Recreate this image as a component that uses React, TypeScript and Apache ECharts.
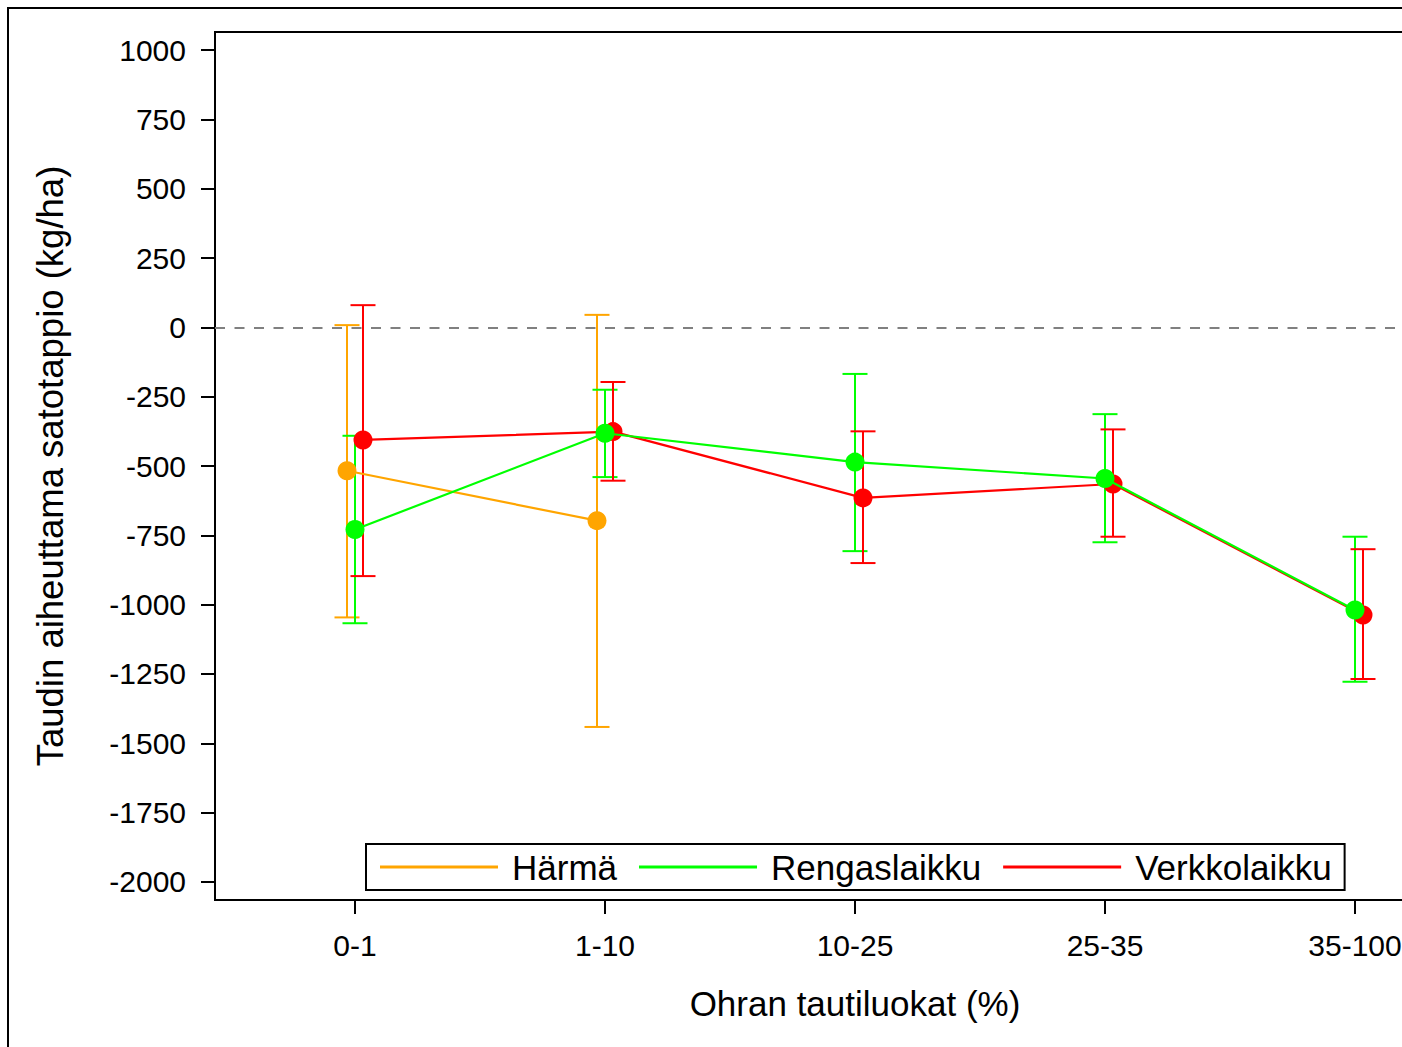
import React, { useEffect, useRef } from "react";
import * as echarts from "echarts";

const categories = ["0-1", "1-10", "10-25", "25-35", "35-100"];
const yTicks = [-2000, -1750, -1500, -1250, -1000, -750, -500, -250, 0, 250, 500, 750, 1000];

const harmaMean = [-517, -697];
const harmaLow = [-1046, -1441];
const harmaHigh = [8, 45];

const rengasMean = [-729, -382, -486, -545, -1019];
const rengasLow = [-1067, -540, -807, -775, -1278];
const rengasHigh = [-391, -225, -168, -313, -755];

const verkkoMean = [-406, -376, -615, -565, -1037];
const verkkoLow = [-897, -553, -850, -755, -1268];
const verkkoHigh = [80, -197, -375, -368, -800];

const FONT = "'Liberation Sans', Arial, sans-serif";
const ORANGE = "#FFA500";
const GREEN = "#00FF00";
const RED = "#FF0000";

function errorSeries(name: string, color: string, offset: number, low: number[], high: number[]) {
  return {
    type: "custom",
    name,
    z: 1,
    silent: true,
    data: low.map((l, i) => [i + offset, l, high[i]]),
    renderItem: (params: any, api: any) => {
      const x = api.value(0);
      const lo = api.value(1);
      const hi = api.value(2);
      const pHi = api.coord([x, hi]);
      const pLo = api.coord([x, lo]);
      const w = 12.5;
      const st = { stroke: color, lineWidth: 2 };
      return {
        type: "group",
        children: [
          { type: "line", shape: { x1: pHi[0], y1: pHi[1], x2: pLo[0], y2: pLo[1] }, style: st },
          { type: "line", shape: { x1: pHi[0] - w, y1: pHi[1], x2: pHi[0] + w, y2: pHi[1] }, style: st },
          { type: "line", shape: { x1: pLo[0] - w, y1: pLo[1], x2: pLo[0] + w, y2: pLo[1] }, style: st },
        ],
      };
    },
  };
}

function lineSeries(name: string, color: string, offset: number, mean: number[], z: number) {
  return {
    type: "line",
    name,
    z,
    data: mean.map((v, i) => [i + offset, v]),
    symbol: "circle",
    symbolSize: 19,
    itemStyle: { color },
    lineStyle: { color, width: 2.2 },
  };
}

export default function App() {
  const ref = useRef<HTMLDivElement>(null);
  useEffect(() => {
    if (!ref.current) return;
    const chart = echarts.init(ref.current, null, { renderer: "svg" });
    const off = 0.032;
    chart.setOption({
      animation: false,
      textStyle: { fontFamily: FONT, color: "#000" },
      grid: {
        left: 206,
        top: 23,
        width: 1280,
        height: 868,
        show: true,
        borderColor: "#000",
        borderWidth: 2,
        backgroundColor: "transparent",
      },
      legend: {
        data: ["Härmä", "Rengaslaikku", "Verkkolaikku"],
        left: 357,
        top: 835,
        orient: "horizontal",
        icon: "rect",
        itemWidth: 118,
        itemHeight: 3,
        itemGap: 22,
        padding: [5, 13, 5, 14],
        borderColor: "#000",
        borderWidth: 2,
        borderRadius: 0,
        backgroundColor: "#fff",
        selectedMode: false,
        textStyle: { fontSize: 35, fontFamily: FONT, color: "#000", padding: [0, 0, 0, 9], lineHeight: 36 },
      },
      xAxis: {
        type: "value",
        min: -0.56,
        max: 4.56,
        name: "Ohran tautiluokat (%)",
        nameLocation: "middle",
        nameGap: 86,
        nameTextStyle: { fontSize: 35, fontFamily: FONT, color: "#000" },
        axisLine: { show: true, onZero: false, lineStyle: { color: "#000", width: 2 } },
        axisTick: { show: true, length: 14, lineStyle: { color: "#000", width: 2 }, customValues: [0, 1, 2, 3, 4] },
        axisLabel: {
          show: true,
          fontSize: 30,
          fontFamily: FONT,
          color: "#000",
          margin: 30,
          customValues: [0, 1, 2, 3, 4],
          formatter: (v: number) => categories[Math.round(v)] ?? "",
        },
        splitLine: { show: false },
      },
      yAxis: {
        type: "value",
        min: -2065,
        max: 1065,
        name: "Taudin aiheuttama satotappio (kg/ha)",
        nameLocation: "middle",
        nameGap: 146,
        nameTextStyle: { fontSize: 36.5, fontFamily: FONT, color: "#000" },
        axisLine: { show: true, onZero: false, lineStyle: { color: "#000", width: 2 } },
        axisTick: { show: true, length: 14, lineStyle: { color: "#000", width: 2 }, customValues: yTicks },
        axisLabel: {
          show: true,
          fontSize: 30,
          fontFamily: FONT,
          color: "#000",
          margin: 29,
          customValues: yTicks,
          formatter: (v: number) => String(Math.round(v)),
        },
        splitLine: { show: false },
      },
      series: [
        {
          type: "line",
          name: "zero",
          data: [],
          z: 0,
          markLine: {
            silent: true,
            symbol: "none",
            label: { show: false },
            lineStyle: { color: "#808080", width: 2, type: [10, 9.5] },
            data: [{ yAxis: 0 }],
          },
        },
        errorSeries("Härmä err", ORANGE, -off, harmaLow, harmaHigh),
        errorSeries("Rengaslaikku err", GREEN, 0, rengasLow, rengasHigh),
        errorSeries("Verkkolaikku err", RED, off, verkkoLow, verkkoHigh),
        lineSeries("Härmä", ORANGE, -off, harmaMean, 2),
        lineSeries("Verkkolaikku", RED, off, verkkoMean, 3),
        lineSeries("Rengaslaikku", GREEN, 0, rengasMean, 4),
      ],
    });
    return () => chart.dispose();
  }, []);

  return (
    <div
      style={{
        position: "fixed",
        left: 7,
        top: 7,
        right: 0,
        bottom: 0,
        overflow: "hidden",
        borderTop: "2px solid #000",
        borderLeft: "2px solid #000",
        background: "#fff",
      }}
    >
      <div ref={ref} style={{ width: 1540, height: 1060 }} />
    </div>
  );
}
